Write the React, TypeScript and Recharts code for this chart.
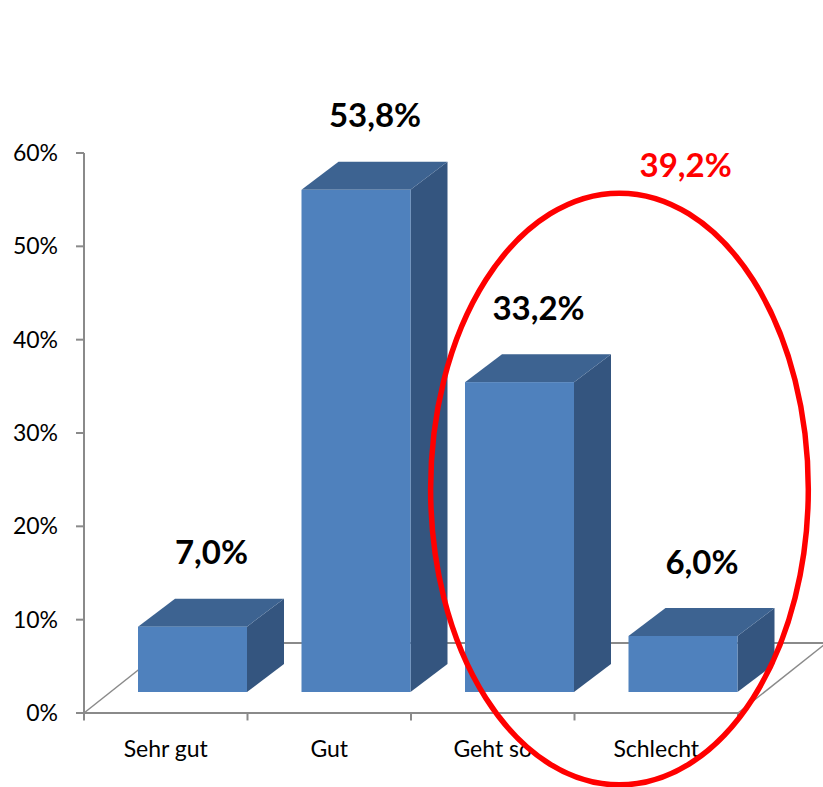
import React from 'react'
import {
  BarChart, Bar, XAxis, YAxis, LabelList, ReferenceLine, ReferenceArea, ReferenceDot,
} from 'recharts'

const categories = ['Sehr gut', 'Gut', 'Geht so', 'Schlecht']
const shares = [7.0, 53.8, 33.2, 6.0]
const yTicks = [0, 10, 20, 30, 40, 50, 60]
const highlighted = ['Geht so', 'Schlecht']

// pos = centre of each category on a continuous 0..4 axis (used for the floor / ring)
const data = categories.map((name, i) => ({ name, value: shares[i], pos: i + 0.5 }))
const highlightSum = data
  .filter((d) => highlighted.includes(d.name))
  .reduce((s, d) => s + d.value, 0)

const fmt = (v: number) => v.toFixed(1).replace('.', ',') + '%'

// 3D look
const FRONT = '#4f81bd'
const TOP = '#3d6391'
const SIDE = '#34557f'
const AXIS = '#8a8a8a'
const FONT = 'Lato, "Open Sans", sans-serif'
const OFF_X = 27 // bar sits a bit behind the front edge
const OFF_Y = 21
const DEPTH_X = 37 // bar depth
const DEPTH_Y = 28
// floor depth in axis units (category units / percent)
const FLOOR_DX = 0.54
const FLOOR_DY = 7.5

function Bar3D(props: any) {
  const { x, y, width, height } = props
  const fx = x + OFF_X
  const fy = y - OFF_Y
  const top = [
    [fx, fy], [fx + DEPTH_X, fy - DEPTH_Y], [fx + width + DEPTH_X, fy - DEPTH_Y], [fx + width, fy],
  ]
  const side = [
    [fx + width, fy], [fx + width + DEPTH_X, fy - DEPTH_Y],
    [fx + width + DEPTH_X, fy + height - DEPTH_Y], [fx + width, fy + height],
  ]
  const pts = (p: number[][]) => p.map((q) => q.join(',')).join(' ')
  return (
    <g>
      <polygon points={pts(side)} fill={SIDE} />
      <polygon points={pts(top)} fill={TOP} />
      <rect x={fx} y={fy} width={width} height={height} fill={FRONT} />
    </g>
  )
}

function BarValue(props: any) {
  const { x, y, width, value } = props
  return (
    <text x={x + width / 2 + 46} y={y - 95} dy="0.35em" textAnchor="middle"
      fontFamily={FONT} fontWeight={700} fontSize={33} fill="#000">
      {fmt(value)}
    </text>
  )
}

function Ring(props: any) {
  const { x, y, width, height } = props
  return (
    <ellipse cx={x + width / 2} cy={y + height / 2} rx={width / 2} ry={height / 2}
      fill="none" stroke="#ff0000" strokeWidth={5.5} />
  )
}

export default function App() {
  return (
    <div style={{ position: 'absolute', left: 0, top: 0, fontFamily: FONT }}>
      <BarChart width={823} height={787} data={data}
        margin={{ top: 153, right: 85, bottom: 0, left: 0 }}>
        <XAxis dataKey="name" height={74} axisLine={{ stroke: AXIS, strokeWidth: 2 }}
          tickLine={false} tickSize={0} tickMargin={28}
          tick={{ fill: '#000', fontSize: 23, fontFamily: FONT }} />
        <XAxis xAxisId="n" dataKey="pos" type="number" domain={[0, 4]}
          ticks={[0, 1, 2, 3, 4]} allowDataOverflow hide />
        <YAxis domain={[0, 60]} ticks={yTicks} width={84} interval={0}
          tickFormatter={(v) => `${v}%`} axisLine={{ stroke: AXIS, strokeWidth: 2 }}
          tickLine={{ stroke: AXIS, strokeWidth: 2 }} tickSize={8} tickMargin={18}
          tick={{ fill: '#000', fontSize: 23, fontFamily: FONT }} />

        {/* floor outline */}
        <ReferenceLine xAxisId="n" ifOverflow="visible" stroke={AXIS} strokeWidth={1.5} zIndex={-10}
          segment={[{ x: 0, y: 0 }, { x: FLOOR_DX, y: FLOOR_DY }]} />
        <ReferenceLine xAxisId="n" ifOverflow="visible" stroke={AXIS} strokeWidth={2} zIndex={-10}
          segment={[{ x: FLOOR_DX, y: FLOOR_DY }, { x: 4 + FLOOR_DX, y: FLOOR_DY }]} />
        <ReferenceLine xAxisId="n" ifOverflow="visible" stroke={AXIS} strokeWidth={1.5} zIndex={-10}
          segment={[{ x: 4, y: 0 }, { x: 4 + FLOOR_DX, y: FLOOR_DY }]} />
        {/* tick marks between categories */}
        {[0, 1, 2, 3, 4].map((k) => (
          <ReferenceLine key={k} xAxisId="n" ifOverflow="visible" stroke={AXIS} strokeWidth={2}
            segment={[{ x: k, y: 0 }, { x: k, y: -0.8 }]} />
        ))}

        <Bar dataKey="value" barSize={109} shape={Bar3D} isAnimationActive={false}>
          <LabelList dataKey="value" content={BarValue} />
        </Bar>

        <ReferenceArea xAxisId="n" x1={2.12} x2={4.43} y1={-7.7} y2={55.7}
          ifOverflow="visible" shape={Ring} zIndex={3000} />
        <ReferenceDot xAxisId="n" x={3.68} y={58.7} r={0} ifOverflow="visible"
          fill="none" stroke="none"
          label={(p: any) => (
            <text x={p.viewBox.x + (p.viewBox.width || 0) / 2}
              y={p.viewBox.y + (p.viewBox.height || 0) / 2} dy="0.35em" textAnchor="middle"
              fontFamily={FONT} fontWeight={700} fontSize={33} fill="#ff0000">
              {fmt(highlightSum)}
            </text>
          )} />
      </BarChart>
    </div>
  )
}
